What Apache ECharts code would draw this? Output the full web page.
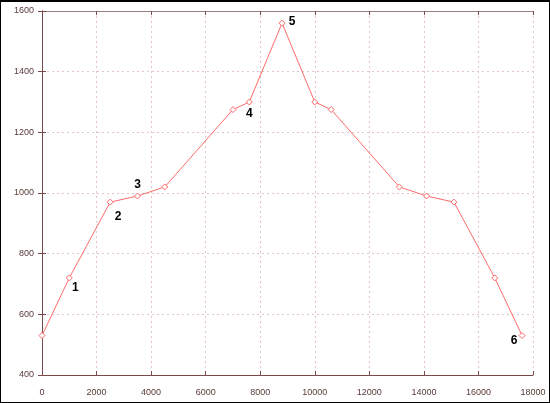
<!DOCTYPE html>
<html>
<head>
<meta charset="utf-8">
<script src="https://cdn.jsdelivr.net/npm/echarts@6/dist/echarts.min.js"></script>
<style>
  html, body { margin: 0; padding: 0; background: #fff; }
  #main { width: 550px; height: 403px; box-sizing: border-box; border: 1px solid #000; border-top-width: 2px; }
</style>
</head>
<body>
<div id="main"></div>
<script>
// data
var xValues = [0, 1000, 2500, 3500, 4500, 7000, 7600, 8800, 10000, 10600, 13100, 14100, 15100, 16600, 17600]
var yValues = [530, 720, 970, 990, 1020, 1275, 1300, 1560, 1300, 1275, 1020, 990, 970, 720, 530]
var pointLabels = ['', '1', '2', '3', '', '', '4', '5', '', '', '', '', '', '', '6']

// where each number sits next to its point (px)
var labelOffsets = {
  '1': [6, 10],
  '2': [8, 15],
  '3': [0, -11],
  '4': [0, 12],
  '5': [10, -1],
  '6': [-8, 5]
}

var chart = echarts.init(document.getElementById('main'))

var axisColor = '#7a4a4a'
var labelColor = '#5a3838'
var gridLine = { show: true, lineStyle: { color: '#e2c4c4', type: [2, 3], width: 1 } }
var plain = function (v) { return String(v) }

var seriesData = xValues.map(function (x, i) {
  var item = { value: [x, yValues[i]] }
  var t = pointLabels[i]
  if (t) {
    item.label = {
      show: true,
      formatter: t,
      position: 'inside',
      offset: labelOffsets[t],
      color: '#000',
      fontWeight: 'bold',
      fontSize: 12,
      fontFamily: 'Liberation Sans, Arial, sans-serif'
    }
  }
  return item
})

var option = {
  animation: false,
  grid: { left: 41, right: 16, top: 9, bottom: 27 },
  xAxis: [
    {
      type: 'value',
      min: 0,
      max: 18000,
      interval: 2000,
      axisLine: { show: true, onZero: false, lineStyle: { color: axisColor } },
      axisTick: { show: true, inside: true, length: 4, lineStyle: { color: axisColor } },
      axisLabel: { color: labelColor, fontSize: 9, margin: 13, formatter: plain, fontFamily: 'Liberation Sans, Arial, sans-serif' },
      splitLine: gridLine
    },
    {
      type: 'value',
      position: 'top',
      min: 0,
      max: 18000,
      interval: 2000,
      axisLine: { show: true, lineStyle: { color: '#9a8080' } },
      axisTick: { show: true, inside: true, length: 4, lineStyle: { color: axisColor } },
      axisLabel: { show: false },
      splitLine: { show: false }
    }
  ],
  yAxis: [
    {
      type: 'value',
      min: 400,
      max: 1600,
      interval: 200,
      axisLine: { show: true, onZero: false, lineStyle: { color: axisColor } },
      axisTick: { show: true, inside: true, length: 4, lineStyle: { color: axisColor } },
      axisLabel: { color: labelColor, fontSize: 9, margin: 8, formatter: plain, fontFamily: 'Liberation Sans, Arial, sans-serif' },
      splitLine: gridLine
    },
    {
      type: 'value',
      position: 'right',
      min: 400,
      max: 1600,
      interval: 200,
      axisLine: { show: true, lineStyle: { color: axisColor } },
      axisTick: { show: true, inside: true, length: 4, lineStyle: { color: axisColor } },
      axisLabel: { show: false },
      splitLine: { show: false }
    }
  ],
  series: [
    {
      type: 'line',
      xAxisIndex: 0,
      yAxisIndex: 0,
      data: seriesData,
      symbol: 'diamond',
      symbolSize: 6,
      showAllSymbol: true,
      lineStyle: { color: '#ff6a6a', width: 1 },
      itemStyle: { color: '#fff', borderColor: '#ff6a6a', borderWidth: 1 }
    }
  ]
}

chart.setOption(option)
</script>
</body>
</html>
